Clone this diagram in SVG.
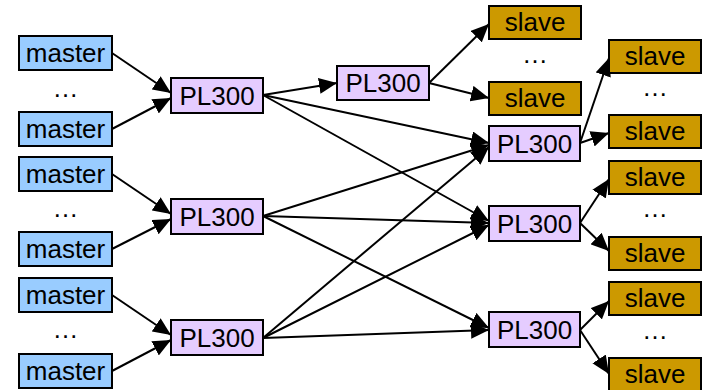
<svg xmlns="http://www.w3.org/2000/svg" width="702" height="390" viewBox="0 0 702 390">
  <defs>
    <marker id="arrow" markerUnits="userSpaceOnUse" markerWidth="18" markerHeight="16" refX="18" refY="8" orient="auto">
      <path d="M0,0 L18,8 L0,16 z" fill="#000"/>
    </marker>
    <style>
      .box { stroke: #000; stroke-width: 2; }
      .master { fill: #99CCFF; }
      .pl { fill: #E5CCFF; }
      .slave { fill: #CC9900; }
      text { font-family: "Liberation Sans", Arial, sans-serif; font-size: 26px; fill: #000; text-anchor: middle; }
      .conn line { stroke: #000; stroke-width: 2; marker-end: url(#arrow); }
    </style>
  </defs>
  <rect width="702" height="390" fill="#fff"/>

  <!-- connectors -->
  <g id="connectors" class="conn">
    <line x1="112" y1="53" x2="171" y2="93"/>
    <line x1="112" y1="129" x2="171" y2="98"/>
    <line x1="112" y1="174" x2="171" y2="214"/>
    <line x1="112" y1="249" x2="171" y2="219"/>
    <line x1="112" y1="295" x2="171" y2="335"/>
    <line x1="112" y1="371" x2="171" y2="340"/>

    <line x1="263" y1="95" x2="337" y2="83"/>
    <line x1="263" y1="95" x2="489" y2="143"/>
    <line x1="263" y1="95" x2="489" y2="221"/>
    <line x1="263" y1="216" x2="489" y2="145"/>
    <line x1="263" y1="216" x2="489" y2="223"/>
    <line x1="263" y1="216" x2="489" y2="328"/>
    <line x1="263" y1="338" x2="489" y2="147"/>
    <line x1="263" y1="338" x2="489" y2="225"/>
    <line x1="263" y1="338" x2="489" y2="330"/>

    <line x1="429" y1="83" x2="489" y2="24"/>
    <line x1="429" y1="83" x2="489" y2="98"/>
    <line x1="580" y1="143" x2="609" y2="58"/>
    <line x1="580" y1="143" x2="609" y2="133"/>
    <line x1="580" y1="223" x2="609" y2="179"/>
    <line x1="580" y1="223" x2="609" y2="251"/>
    <line x1="580" y1="330" x2="609" y2="301"/>
    <line x1="580" y1="330" x2="609" y2="374"/>
  </g>

  <!-- masters -->
  <g id="master1"><rect class="box master" x="19" y="36" width="93" height="34"/><text x="65.5" y="62">master</text></g>
  <text x="65.5" y="97">…</text>
  <g id="master2"><rect class="box master" x="19" y="112" width="93" height="34"/><text x="65.5" y="138">master</text></g>
  <g id="master3"><rect class="box master" x="19" y="157" width="93" height="34"/><text x="65.5" y="183">master</text></g>
  <text x="65.5" y="217">…</text>
  <g id="master4"><rect class="box master" x="19" y="232" width="93" height="34"/><text x="65.5" y="258">master</text></g>
  <g id="master5"><rect class="box master" x="19" y="278" width="93" height="34"/><text x="65.5" y="304">master</text></g>
  <text x="65.5" y="338">…</text>
  <g id="master6"><rect class="box master" x="19" y="354" width="93" height="34"/><text x="65.5" y="380">master</text></g>

  <!-- first stage interconnects -->
  <g id="pl300-a"><rect class="box pl" x="171" y="78" width="92" height="35"/><text x="217" y="105">PL300</text></g>
  <g id="pl300-b"><rect class="box pl" x="171" y="199" width="92" height="35"/><text x="217" y="226">PL300</text></g>
  <g id="pl300-c"><rect class="box pl" x="171" y="320" width="92" height="35"/><text x="217" y="347">PL300</text></g>

  <!-- second stage interconnects -->
  <g id="pl300-top"><rect class="box pl" x="337" y="66" width="92" height="34"/><text x="383" y="92">PL300</text></g>
  <g id="pl300-r1"><rect class="box pl" x="489" y="126" width="91" height="35"/><text x="534.5" y="153">PL300</text></g>
  <g id="pl300-r2"><rect class="box pl" x="489" y="206" width="91" height="35"/><text x="534.5" y="233">PL300</text></g>
  <g id="pl300-r3"><rect class="box pl" x="489" y="312" width="91" height="35"/><text x="534.5" y="339">PL300</text></g>

  <!-- slaves -->
  <g id="slave1"><rect class="box slave" x="489" y="6" width="92" height="33"/><text x="535" y="31">slave</text></g>
  <text x="535" y="63">…</text>
  <g id="slave2"><rect class="box slave" x="489" y="82" width="92" height="33"/><text x="535" y="107">slave</text></g>

  <g id="slave3"><rect class="box slave" x="609" y="40" width="92" height="33"/><text x="655" y="65">slave</text></g>
  <text x="655" y="96">…</text>
  <g id="slave4"><rect class="box slave" x="609" y="115" width="92" height="33"/><text x="655" y="140">slave</text></g>
  <g id="slave5"><rect class="box slave" x="609" y="161" width="92" height="33"/><text x="655" y="186">slave</text></g>
  <text x="655" y="217">…</text>
  <g id="slave6"><rect class="box slave" x="609" y="237" width="92" height="33"/><text x="655" y="262">slave</text></g>
  <g id="slave7"><rect class="box slave" x="609" y="282" width="92" height="33"/><text x="655" y="307">slave</text></g>
  <text x="655" y="339">…</text>
  <g id="slave8"><rect class="box slave" x="609" y="358" width="92" height="33"/><text x="655" y="383">slave</text></g>
</svg>
